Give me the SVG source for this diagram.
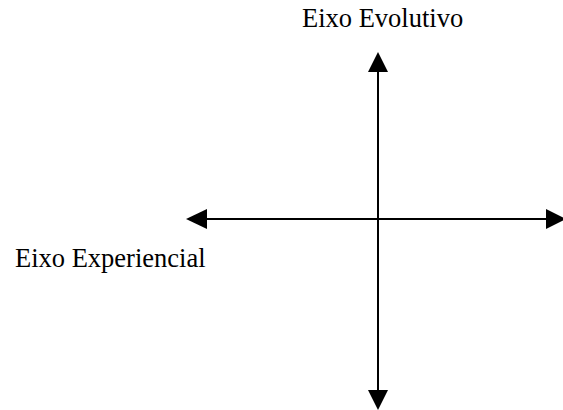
<svg xmlns="http://www.w3.org/2000/svg" width="563" height="410" viewBox="0 0 563 410">
<style>
.lbl{font-family:"Liberation Serif","Times New Roman",serif;font-size:26.5px;fill:#000}
.ax{stroke:#000;stroke-width:2;fill:none}
.ah{fill:#000;stroke:none}
</style>
<rect width="563" height="410" fill="#fff"/>
<g id="connectors">
<line class="ax" x1="378" y1="70" x2="378" y2="390"/>
<polygon class="ah" points="378,52 368,72 388,72"/>
<polygon class="ah" points="378,410 368,390 388,390"/>
<line class="ax" x1="205" y1="219" x2="548" y2="219"/>
<polygon class="ah" points="186,219 207,209 207,229"/>
<polygon class="ah" points="566,219 546,209 546,229"/>
</g>
<g id="label-evolutivo"><text class="lbl" x="302" y="27">Eixo Evolutivo</text></g>
<g id="label-experiencial"><text class="lbl" x="15" y="267">Eixo Experiencial</text></g>
</svg>
